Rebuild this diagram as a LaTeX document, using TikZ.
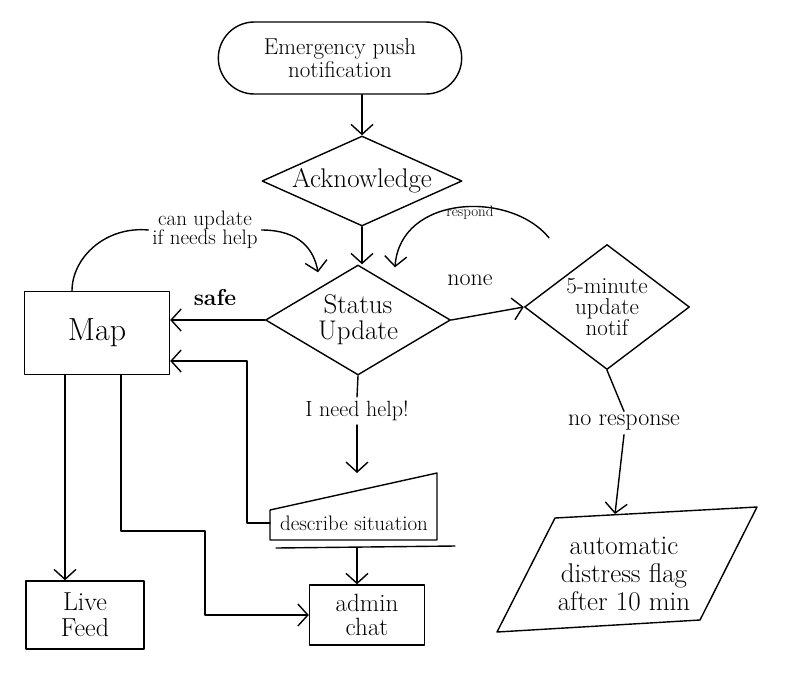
\documentclass[tikz,border=0pt]{standalone}
\usetikzlibrary{shapes.geometric,shapes.misc,arrows.meta,calc}
\begin{document}
\begin{tikzpicture}[x=1pt,y=-1pt, line width=1.4pt, line cap=round, line join=round,
  every node/.style={font=\fontsize{23}{23}\selectfont, align=center},
  arr/.style={-{Straight Barb[length=10pt,width=22pt]}},
  lbl/.style={font=\fontsize{22}{20}\selectfont},
  decision/.style={draw, diamond, inner sep=0pt}]
\useasboundingbox (0,0) rectangle (789,689);

% nodes
\node[draw, rounded rectangle, minimum width=250pt, minimum height=72pt] (start) at (340,58) {Emergency push\\notification};
\node[decision, aspect=2.3, minimum width=200pt, minimum height=90pt, inner sep=-4pt, font=\fontsize{27}{27}\selectfont] (ack) at (362,181) {Acknowledge};
\node[decision, aspect=1.7, minimum width=185pt, minimum height=110pt, inner sep=-4pt, font=\fontsize{27}{26}\selectfont] (status) at (358,320) {Status\\Update};
\node[decision, aspect=1.3, minimum width=165pt, minimum height=125pt, inner sep=-9pt, font=\fontsize{23}{21}\selectfont] (five) at (607,307) {5-minute\\update\\notif};
\node[draw, minimum width=145pt, minimum height=83pt, font=\fontsize{32}{32}\selectfont] (map) at (97,333) {Map};
\node[draw, minimum width=118pt, minimum height=68pt, font=\fontsize{26}{26}\selectfont] (live) at (85,615) {Live\\Feed};
\node[draw, minimum width=115pt, minimum height=60pt, font=\fontsize{25}{24}\selectfont] (admin) at (367,615) {admin\\chat};
\node[font=\fontsize{21}{21}\selectfont] (desc) at (354,523) {describe situation};
\node[font=\fontsize{27}{28}\selectfont] (flag) at (624,574) {automatic\\distress flag\\after 10 min};

% describe situation shape (manual input)
\coordinate (d1) at (270,510);
\coordinate (d2) at (437,473);
\coordinate (d3) at (437,540);
\coordinate (d4) at (270,540);
\coordinate (dleft) at (270,523);
\coordinate (dbase) at (357,548);
\draw (d1) -- (d2) -- (d3) -- (d4) -- cycle;
\draw (276,548) -- (455,546);

% automatic distress flag (parallelogram)
\coordinate (f1) at (555,518);
\coordinate (f2) at (757,507);
\coordinate (f3) at (700,620);
\coordinate (f4) at (497,632);
\coordinate (ftop) at (615,514);
\draw (f1) -- (f2) -- (f3) -- (f4) -- cycle;

% labels
\node[lbl, font=\fontsize{21}{19}\selectfont] (canlbl) at (205,230) {can update\\if needs help};
\node[lbl, font=\fontsize{15}{15}\selectfont] (resplbl) at (470,213) {respond};
\node[lbl, font=\fontsize{24}{24}\selectfont] (nonelbl) at (470,280) {none};
\node[lbl, font=\bfseries\fontsize{23}{23}\selectfont] (safelbl) at (215,298) {safe};
\node[lbl] (needlbl) at (357,411) {I need help!};
\node[lbl, font=\fontsize{24}{24}\selectfont] (noresp) at (624,423) {no response};

% connectors
\draw[arr] (start.south -| ack.north) -- (ack.north);
\draw[arr] (ack.south) -- (ack.south |- status.north);
\draw (status.south) -- (needlbl.north);
\draw[arr] (needlbl.south) -- ($(needlbl.south)+(0,48)$);
\draw[arr] (dbase) -- (dbase |- admin.north);
\draw[arr] (status.east) -- (five.west);
\draw[arr] (status.west) -- (status.west -| map.east);
\draw[arr] (dleft) -- (247,523) |- ($(map.east)+(0,28)$);
\draw[arr] ($(map.south)+(-32,0)$) -- ($(live.north)+(-20,0)$);
\draw[arr] ($(map.south)+(24,0)$) |- (205,531) |- (admin.west);
\draw ($(map.north)+(-25,0)$) .. controls (72,258) and (105,226) .. (canlbl.west);
\draw[arr] (canlbl.east) .. controls (300,230) and (314,250) .. ($(status.north)+(-40,8)$);
\draw[arr] ($(five.north)+(-58,-6)$) .. controls (510,190) and (400,195) .. ($(status.north)+(37,3)$);
\draw (five.south) -- (noresp.north);
\draw[arr] (noresp.south) -- (ftop);
\end{tikzpicture}
\end{document}
